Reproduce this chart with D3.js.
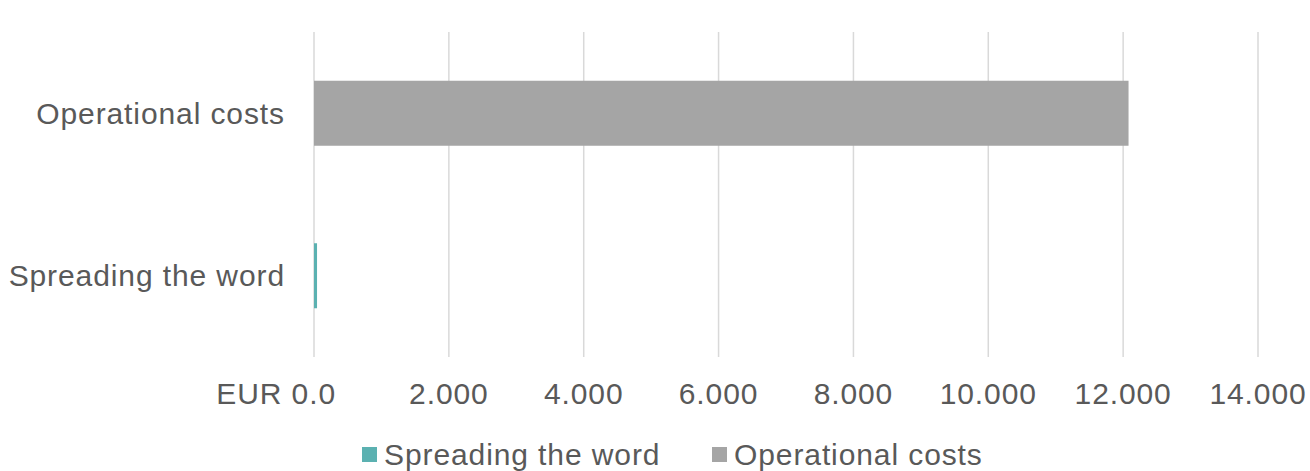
<!DOCTYPE html>
<html>
<head>
<meta charset="utf-8">
<script src="https://cdn.jsdelivr.net/npm/d3@7/dist/d3.min.js"></script>
<style>
  html, body { margin: 0; padding: 0; background: #fff; }
  svg { display: block; font-family: "Liberation Sans", Arial, sans-serif; }
</style>
</head>
<body>
<div id="chart"></div>
<script>
// categories, top to bottom
var categories = ['Operational costs', 'Spreading the word'];
// values in EUR
var values = [12080, 45];
var barColors = ['#A5A5A5', '#5BB1B1'];
// legend order
var legendLabels = ['Spreading the word', 'Operational costs'];
var legendColors = ['#5BB1B1', '#A5A5A5'];
// x ticks
var tickValues = [0, 2000, 4000, 6000, 8000, 10000, 12000, 14000];
var tickLabels = ['EUR 0.0', '2.000', '4.000', '6.000', '8.000', '10.000', '12.000', '14.000'];

(function() {
    var width = 1310, height = 471;
    var textColor = '#595959';
    var fontSize = '30px', spacing = '0.9px';

    var svg = d3.select('#chart').append('svg')
        .attr('width', width)
        .attr('height', height);

    // plot area
    var plotLeft = 314, plotRight = 1258, plotTop = 32, plotBottom = 357;

    var x = d3.scaleLinear().domain([0, 14000]).range([plotLeft, plotRight]);
    var y = d3.scaleBand().domain(categories).range([plotTop, plotBottom])
        .paddingInner(0.6).paddingOuter(0.3);

    // gridlines
    svg.append('g').selectAll('line')
        .data(tickValues)
        .enter().append('line')
        .attr('x1', function(d) { return x(d); })
        .attr('x2', function(d) { return x(d); })
        .attr('y1', plotTop)
        .attr('y2', plotBottom)
        .attr('stroke', '#D9D9D9')
        .attr('stroke-width', 1.5);

    // bars
    svg.append('g').selectAll('rect')
        .data(values)
        .enter().append('rect')
        .attr('x', x(0))
        .attr('y', function(d, i) { return y(categories[i]); })
        .attr('width', function(d) { return x(d) - x(0); })
        .attr('height', y.bandwidth())
        .attr('fill', function(d, i) { return barColors[i]; });

    // x tick labels (first one carries the currency, right-aligned past the zero line)
    svg.append('g').selectAll('text')
        .data(tickValues)
        .enter().append('text')
        .attr('x', function(d, i) { return i === 0 ? x(d) + 22 : x(d); })
        .attr('y', 404)
        .attr('text-anchor', function(d, i) { return i === 0 ? 'end' : 'middle'; })
        .attr('font-size', fontSize)
        .attr('letter-spacing', spacing)
        .attr('fill', textColor)
        .text(function(d, i) { return tickLabels[i]; });

    // category labels
    svg.append('g').selectAll('text')
        .data(categories)
        .enter().append('text')
        .attr('x', 285)
        .attr('y', function(d) { return y(d) + y.bandwidth() / 2; })
        .attr('dy', '0.35em')
        .attr('text-anchor', 'end')
        .attr('font-size', fontSize)
        .attr('letter-spacing', spacing)
        .attr('fill', textColor)
        .text(function(d) { return d; });

    // legend
    var legendX = [362, 712];
    var legend = svg.append('g').selectAll('g')
        .data(legendLabels)
        .enter().append('g')
        .attr('transform', function(d, i) { return 'translate(' + legendX[i] + ',447)'; });

    legend.append('rect')
        .attr('width', 15)
        .attr('height', 15)
        .attr('fill', function(d, i) { return legendColors[i]; });

    legend.append('text')
        .attr('x', 22)
        .attr('y', 18)
        .attr('font-size', fontSize)
        .attr('letter-spacing', spacing)
        .attr('fill', textColor)
        .text(function(d) { return d; });
})();
</script>
</body>
</html>
